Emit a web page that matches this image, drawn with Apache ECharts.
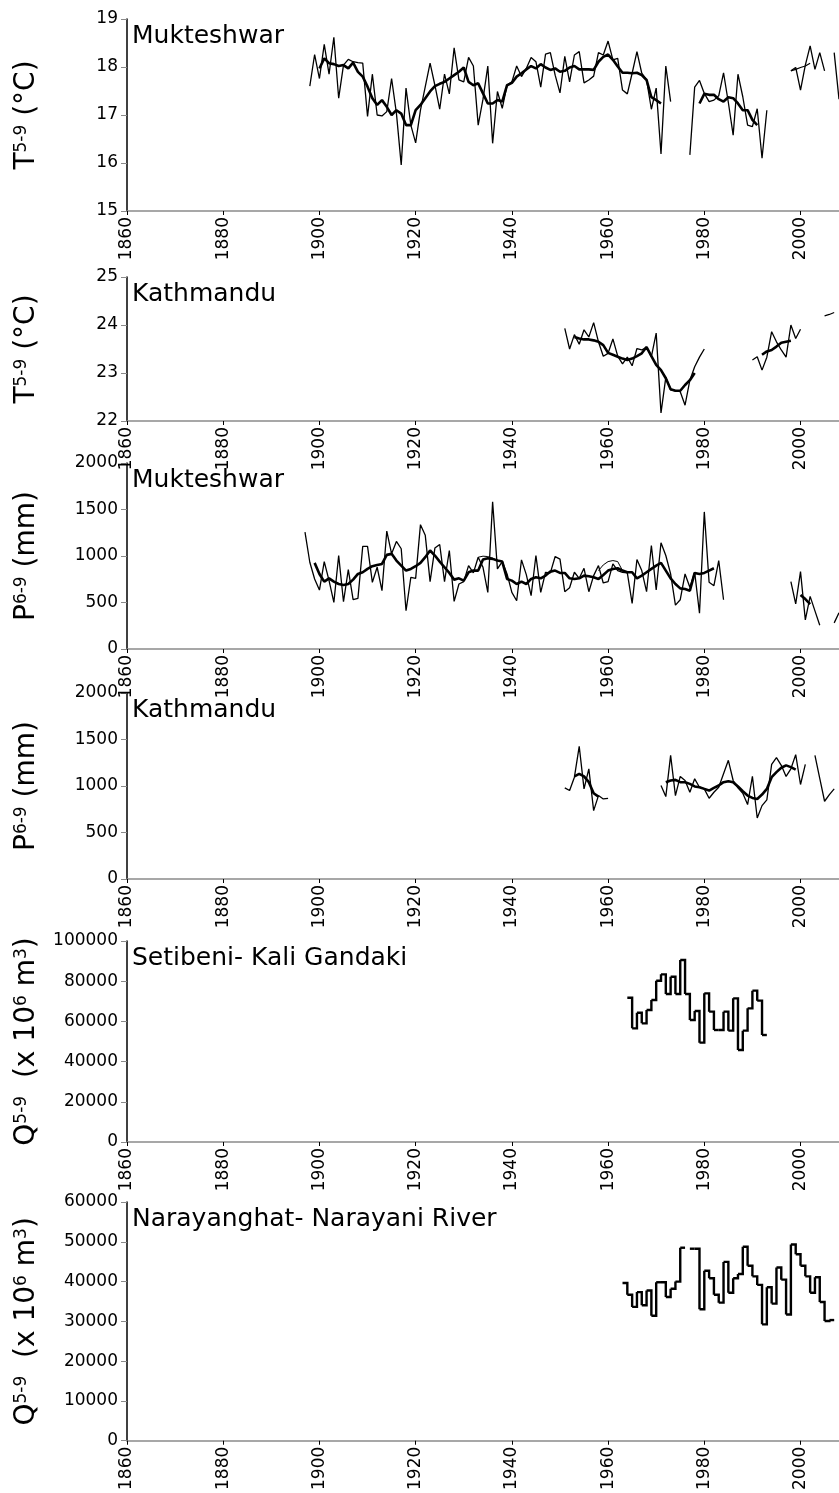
<!DOCTYPE html>
<html>
<head>
<meta charset="utf-8">
<script src="https://cdn.jsdelivr.net/npm/echarts@6/dist/echarts.min.js"></script>
<style>
html, body { margin: 0; padding: 0; background: #fff; }
#chart { width: 839px; height: 1493px; }
</style>
</head>
<body>
<div id="chart"></div>
<script>
// ---- Mukteshwar, May–Sep mean temperature (°C) ----
const mukT_start = 1898;
const mukT_annual = [
  17.60, 18.26, 17.76, 18.47, 17.85, 18.62, 17.35, 18.04, 18.16, 18.11,
  18.09, 18.08, 16.97, 17.85, 17.00, 16.98, 17.07, 17.76, 17.04, 15.96,
  17.56, 16.79, 16.42, 17.10, 17.59, 18.08, 17.62, 17.12, 17.85, 17.44,
  18.40, 17.73, 17.69, 18.20, 18.02, 16.79, 17.33, 18.02, 16.41, 17.49,
  17.14, 17.62, 17.69, 18.02, 17.80, 17.97, 18.20, 18.11, 17.58, 18.27,
  18.30, 17.83, 17.46, 18.22, 17.69, 18.25, 18.32, 17.67, 17.73, 17.81,
  18.30, 18.25, 18.54, 18.15, 18.18, 17.52, 17.44, 17.87, 18.32, 17.87,
  17.73, 17.12, 17.56, 16.19, 18.02, 17.28, null, null, null, 16.17,
  17.58, 17.72, 17.45, 17.28, 17.31, 17.40, 17.88, 17.26, 16.58, 17.85,
  17.38, 16.79, 16.76, 17.13, 16.10, 17.10, null, null, null, null,
  17.92, 17.99, 17.52, 18.04, 18.44, 17.95, 18.30, 17.92, null, 18.30,
  17.33
];
const mukT_smooth_start = 1900;
const mukT_smooth = [
  17.97, 18.18, 18.08, 18.06, 18.02, 18.04, 17.97, 18.09, 17.90, 17.80,
  17.59, 17.35, 17.21, 17.31, 17.17, 17.00, 17.10, 17.03, 16.79, 16.79,
  17.10, 17.21, 17.35, 17.49, 17.60, 17.65, 17.69, 17.76, 17.83, 17.90,
  17.99, 17.69, 17.62, 17.66, 17.45, 17.24, 17.24, 17.31, 17.28, 17.62,
  17.67, 17.80, 17.87, 17.95, 18.02, 17.97, 18.06, 17.99, 17.94, 17.97,
  17.90, 17.92, 17.99, 18.02, 17.95, 17.95, 17.95, 17.94, 18.11, 18.21,
  18.26, 18.15, 18.01, 17.88, 17.88, 17.87, 17.88, 17.83, 17.73, 17.37,
  17.31, 17.24, null, null, null, null, null, null, null, 17.24,
  17.44, 17.42, 17.42, 17.33, 17.28, 17.37, 17.35, 17.24, 17.10, 17.10,
  16.90, 16.79
];
const mukT_trend_start = 1998;
const mukT_trend = [17.92, 17.95, 17.99, 18.02, 18.08];

// ---- Kathmandu, May–Sep mean temperature (°C) ----
const ktmT_start = 1951;
const ktmT_annual = [
  23.93, 23.50, 23.80, 23.60, 23.90, 23.75, 24.05, 23.65, 23.35, 23.41,
  23.71, 23.35, 23.19, 23.33, 23.15, 23.51, 23.48, 23.54, 23.34, 23.83,
  22.17, 22.91, 22.65, 22.63, 22.61, 22.33, 22.85, 23.13, 23.33, 23.50,
  null, null, null, null, null, null, null, null, null, 23.27,
  23.34, 23.06, 23.33, 23.86, 23.65, 23.48, 23.33, 24.00, 23.72, 23.91
];
const ktmT_smooth_start = 1953;
const ktmT_smooth = [
  23.75, 23.72, 23.70, 23.70, 23.68, 23.65, 23.58, 23.42, 23.38, 23.34,
  23.30, 23.27, 23.30, 23.35, 23.41, 23.54, 23.35, 23.17, 23.06, 22.89,
  22.66, 22.63, 22.63, 22.75, 22.85, 23.00, null, null, null, null,
  null, null, null, null, null, null, null, null, null, 23.38,
  23.45, 23.48, 23.55, 23.63, 23.65, 23.67
];
const ktmT_trend_start = 2005;
const ktmT_trend = [24.19, 24.22, 24.26];

// ---- Mukteshwar, Jun–Sep precipitation (mm) ----
const mukP_start = 1897;
const mukP_annual = [
  1257, 933, 753, 634, 940, 735, 501, 1005, 508, 854,
  530, 544, 1103, 1103, 717, 879, 627, 1268, 1024, 1157,
  1078, 411, 771, 760, 1337, 1222, 724, 1085, 1124, 724,
  1059, 512, 699, 724, 897, 818, 987, 879, 609, 1582,
  861, 940, 807, 609, 519, 958, 800, 573, 1005, 609,
  825, 818, 994, 966, 616, 658, 825, 760, 868, 616,
  789, 897, 710, 724, 915, 843, 825, 818, 490, 962,
  843, 616, 1113, 634, 1142, 1005, 807, 472, 530, 807,
  663, 825, 386, 1474, 717, 681, 951, 530, null, null,
  null, null, null, null, null, null, null, null, null, null,
  null, 724, 484, 832, 313, 566, 410, 256, null, null,
  281, 389
];
const mukP_smooth_start = 1899;
const mukP_smooth = [
  926, 807, 724, 760, 724, 699, 688, 699, 746, 807,
  825, 861, 890, 904, 915, 1012, 1023, 951, 897, 843,
  861, 890, 926, 987, 1059, 1005, 940, 879, 818, 746,
  760, 735, 825, 843, 843, 962, 976, 969, 951, 940,
  753, 735, 699, 724, 699, 753, 771, 760, 789, 832,
  843, 818, 818, 760, 753, 760, 789, 782, 771, 753,
  796, 843, 861, 868, 843, 825, 825, 760, 789, 825,
  861, 897, 926, 843, 760, 699, 652, 645, 627, 818,
  807, 818, 843, 868, null, null, null, null, null, null,
  null, null, null, null, null, null, null, null, null, null,
  null, 580, 537, 483
];
const mukP_trend_start = 1933;
const mukP_trend = [
  987, 998, 994, 976, 951, null, null, null, null, null,
  null, null, null, null, null, null, null, null, null, null,
  null, null, null, null, null, 843, 904, 940, 951, 940,
  843
];

// ---- Kathmandu, Jun–Sep precipitation (mm) ----
const ktmP_start = 1951;
const ktmP_annual = [
  980, 951, 1095, 1427, 969, 1185, 735, 897, 861, 868,
  null, null, null, null, null, null, null, null, null, null,
  1005, 886, 1330, 897, 1103, 1059, 933, 1077, 987, 969,
  868, 933, 987, 1131, 1276, 1059, 980, 922, 800, 1103,
  656, 789, 851, 1232, 1305, 1222, 1103, 1185, 1337, 1016,
  1232, null, 1330, 1083, 836, 908, 969
];
const ktmP_smooth_start = 1953;
const ktmP_smooth = [
  1103, 1131, 1103, 1041, 922, 886, null, null, null, null,
  null, null, null, null, null, null, null, null, null, 1041,
  1059, 1066, 1041, 1041, 1023, 995, 987, 969, 951, 980,
  1005, 1041, 1052, 1041, 995, 944, 897, 872, 861, 908,
  969, 1095, 1149, 1196, 1222, 1203, 1175
];

// ---- May–Sep discharge (x 10^6 m^3) ----
const setiQ_start = 1964;
const setiQ = [
  71800, 56550, 64340, 59030, 65670, 70650, 80260, 83420, 73630, 82250,
  73630, 90550, 73630, 60700, 65170, 49420, 73960, 64840, 55720, 55720,
  64840, 55390, 71470, 45770, 55390, 66500, 75290, 70320, 53230
];
const naraQ_start = 1963;
const naraQ = [
  39660, 36690, 33630, 37350, 34040, 37760, 31400, 39830, 39830, 36110,
  38180, 39990, 48510, null, 48260, 48260, 33050, 42720, 40820, 36690,
  34710, 44950, 37190, 40820, 41900, 48750, 43960, 41320, 39170, 29250,
  38590, 34460, 43550, 40490, 31730, 49330, 46850, 43960, 41320, 37190,
  41070, 34870, 30080, 30330
];

// ---- axes ----
const xTickLabels = [1860, 1880, 1900, 1920, 1940, 1960, 1980, 2000];
const stationNames = ['Mukteshwar', 'Kathmandu', 'Mukteshwar', 'Kathmandu',
                      'Setibeni- Kali Gandaki', 'Narayanghat- Narayani River'];
const yRanges = [[15, 19, 1], [22, 25, 1], [0, 2000, 500], [0, 2000, 500],
                 [0, 100000, 20000], [0, 60000, 10000]];
const yNames = [
  '{b|T}{s|5-9}{b| (°C)}',
  '{b|T}{s|5-9}{b| (°C)}',
  '{b|P}{s|6-9}{b| (mm)}',
  '{b|P}{s|6-9}{b| (mm)}',
  '{b|Q}{s|5-9}{b|  (x 10}{s|6}{b| m}{s|3}{b|)}',
  '{b|Q}{s|5-9}{b|  (x 10}{s|6}{b| m}{s|3}{b|)}'
];

// panel frames: [top, bottom] in px
const frames = [[19, 211], [277, 421], [463, 649], [693, 879], [941, 1142], [1202, 1444]];

const FONT = 'DejaVu Sans';

function pairs(start, vals) {
  return vals.map((v, i) => [start + i, v]);
}
function stepTriples(start, vals) {
  return vals.map((v, i) => [start + i, v, i + 1 < vals.length ? vals[i + 1] : null]);
}

const grids = [], xAxes = [], yAxes = [], titles = [], series = [];

frames.forEach((f, k) => {
  grids.push({ left: 127, right: 0, top: f[0], height: f[1] - f[0] });
  xAxes.push({
    gridIndex: k, type: 'value', min: 1860, max: 2008, interval: 20,
    axisLine: { show: true, onZero: false, lineStyle: { color: '#8a8a8a', width: 1.5 } },
    axisTick: { show: true, length: 4, lineStyle: { color: '#000', width: 1 } },
    axisLabel: {
      rotate: 90, fontFamily: FONT, fontSize: 17, color: '#000', margin: 6,
      showMaxLabel: false,
      formatter: v => (xTickLabels.indexOf(v) >= 0 ? String(v) : '')
    },
    splitLine: { show: false }
  });
  const r = yRanges[k];
  yAxes.push({
    gridIndex: k, type: 'value', min: r[0], max: r[1], interval: r[2],
    axisLine: { show: true, onZero: false, lineStyle: { color: '#000', width: 1.5 } },
    axisTick: { show: true, length: 6, lineStyle: { color: '#8a8a8a', width: 1 } },
    axisLabel: { fontFamily: FONT, fontSize: 17, color: '#000', margin: 9, formatter: v => String(v) },
    splitLine: { show: false },
    name: yNames[k], nameLocation: 'middle', nameGap: 86, nameRotate: 90,
    nameTextStyle: {
      fontFamily: FONT, color: '#000',
      rich: {
        b: { fontFamily: FONT, fontSize: 28, color: '#000' },
        s: { fontFamily: FONT, fontSize: 17, color: '#000', verticalAlign: 'top' }
      }
    }
  });
  titles.push({
    text: stationNames[k], left: 132, top: f[0] + 5, padding: 0,
    textStyle: { fontFamily: FONT, fontSize: 25, fontWeight: 'normal', color: '#000' }
  });
});

function thin(k, start, vals, w) {
  series.push({
    type: 'line', xAxisIndex: k, yAxisIndex: k, data: pairs(start, vals),
    showSymbol: false, symbol: 'none', connectNulls: false, silent: true,
    lineStyle: { color: '#000', width: w }, z: 3
  });
}

// temperature and precipitation panels: yearly values, thin running line, bold running mean
thin(0, mukT_start, mukT_annual, 1.3);
thin(0, mukT_trend_start, mukT_trend, 1.2);
thin(0, mukT_smooth_start, mukT_smooth, 2.6);
thin(1, ktmT_start, ktmT_annual, 1.3);
thin(1, ktmT_trend_start, ktmT_trend, 1.2);
thin(1, ktmT_smooth_start, ktmT_smooth, 2.6);
thin(2, mukP_start, mukP_annual, 1.3);
thin(2, mukP_trend_start, mukP_trend, 1.0);
thin(2, mukP_smooth_start, mukP_smooth, 2.6);
thin(3, ktmP_start, ktmP_annual, 1.3);
thin(3, ktmP_smooth_start, ktmP_smooth, 2.6);

// discharge panels: one horizontal step per year
function stepSeries(k, start, vals) {
  series.push({
    type: 'custom', xAxisIndex: k, yAxisIndex: k, silent: true,
    data: stepTriples(start, vals),
    encode: { x: 0, y: 1 },
    renderItem: (params, api) => {
      const yr = api.value(0), v = api.value(1), nx = api.value(2);
      if (v == null || isNaN(v)) return null;
      const p0 = api.coord([yr, v]);
      const p1 = api.coord([yr + 1, v]);
      const pts = [p0, p1];
      if (nx != null && !isNaN(nx)) pts.push(api.coord([yr + 1, nx]));
      return {
        type: 'polyline', shape: { points: pts },
        style: { stroke: '#000', lineWidth: 2.4, fill: null, lineJoin: 'miter' }
      };
    }
  });
}
stepSeries(4, setiQ_start, setiQ);
stepSeries(5, naraQ_start, naraQ);

const chart = echarts.init(document.getElementById('chart'), null, { renderer: 'canvas' });
chart.setOption({
  animation: false,
  backgroundColor: '#fff',
  title: titles,
  grid: grids,
  xAxis: xAxes,
  yAxis: yAxes,
  series: series
});
</script>
</body>
</html>
